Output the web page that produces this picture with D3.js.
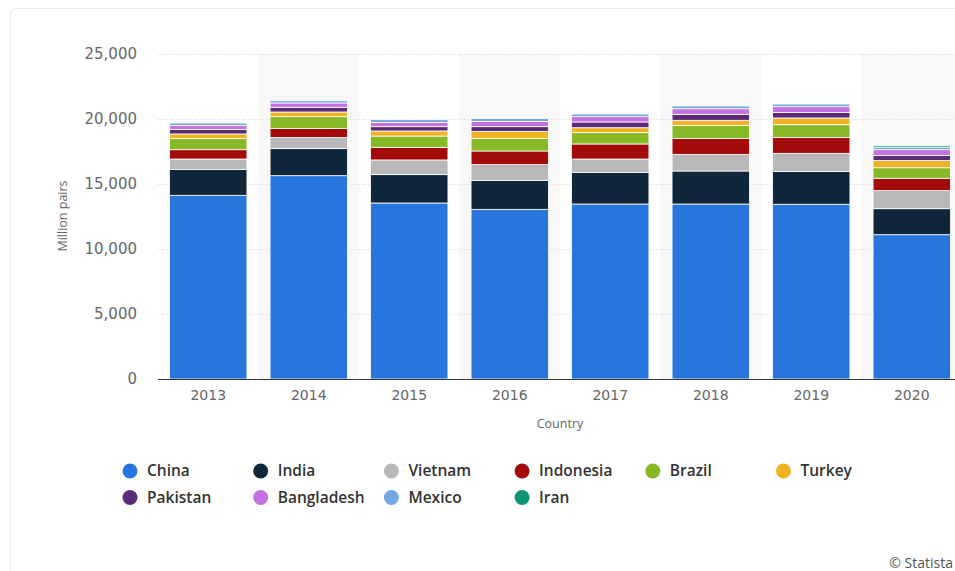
<!DOCTYPE html>
<html>
<head>
<meta charset="utf-8">
<script src="https://cdn.jsdelivr.net/npm/d3@7/dist/d3.min.js"></script>
<style>
  html, body { margin: 0; padding: 0; background: #fff; }
  svg { display: block; font-family: "Open Sans", "Noto Sans", sans-serif; }
</style>
</head>
<body>
<svg id="chart" width="955" height="571"></svg>
<script>
// Footwear production by country, million pairs
const years = ["2013", "2014", "2015", "2016", "2017", "2018", "2019", "2020"];
const countries = ["China", "India", "Vietnam", "Indonesia", "Brazil", "Turkey", "Pakistan", "Bangladesh", "Mexico", "Iran"];

const china      = [14130, 15640, 13540, 13050, 13460, 13460, 13440, 11100];
const india      = [1990, 2080, 2180, 2230, 2440, 2540, 2530, 2000];
const vietnam    = [800, 860, 1130, 1210, 1020, 1280, 1390, 1390];
const indonesia  = [720, 700, 970, 1050, 1160, 1230, 1220, 950];
const brazil     = [850, 900, 870, 970, 870, 980, 980, 810];
const turkey     = [360, 360, 390, 540, 380, 410, 520, 550];
const pakistan   = [350, 360, 330, 360, 440, 460, 430, 400];
const bangladesh = [300, 330, 330, 390, 410, 430, 440, 440];
const mexico     = [190, 170, 210, 230, 200, 210, 200, 190];
const iran       = [0, 0, 0, 0, 0, 0, 0, 110];

const yTicks = [0, 5000, 10000, 15000, 20000, 25000];
const colors = ["#2876dd", "#10263b", "#b8b8b8", "#a30b0b", "#86b925", "#f1b326",
                "#5a2b78", "#c472e0", "#74a7e6", "#0c9474"];

const seriesValues = [china, india, vietnam, indonesia, brazil, turkey, pakistan, bangladesh, mexico, iran];
const rows = years.map((yr, i) => {
  const r = { year: yr };
  countries.forEach((c, k) => { r[c] = seriesValues[k][i]; });
  return r;
});

const svg = d3.select("#chart");

// card outline
svg.append("rect")
  .attr("x", 10.5).attr("y", 8.5)
  .attr("width", 960).attr("height", 600)
  .attr("rx", 6)
  .attr("fill", "#fff")
  .attr("stroke", "#ececec");

const plot = { left: 158, right: 962, top: 54, bottom: 379 };

const x = d3.scaleBand()
  .domain(years)
  .range([plot.left, plot.right])
  .paddingInner(0.23)
  .paddingOuter(0.115);

const y = d3.scaleLinear()
  .domain([0, 25000])
  .range([plot.bottom, plot.top]);

// alternating column shading
const step = x.step();
svg.append("g")
  .selectAll("rect")
  .data(years.filter((d, i) => i % 2 === 1))
  .join("rect")
  .attr("x", d => x(d) - step * x.paddingInner() / 2)
  .attr("y", plot.top)
  .attr("width", step)
  .attr("height", plot.bottom - plot.top)
  .attr("fill", "#f8f8f8");

// gridlines
svg.append("g")
  .selectAll("line")
  .data(yTicks.filter(t => t > 0))
  .join("line")
  .attr("x1", plot.left).attr("x2", 955)
  .attr("y1", d => Math.round(y(d)) + 0.5)
  .attr("y2", d => Math.round(y(d)) + 0.5)
  .attr("stroke", "#d4d4d4")
  .attr("stroke-dasharray", "1,2");

// stacked bars
const stack = d3.stack().keys(countries);
const layers = stack(rows);

svg.append("g")
  .selectAll("g")
  .data(layers)
  .join("g")
  .attr("fill", (d, i) => colors[i])
  .selectAll("rect")
  .data(d => d.filter(s => s[1] - s[0] > 0))
  .join("rect")
  .attr("x", d => x(d.data.year))
  .attr("width", x.bandwidth())
  .attr("y", d => y(d[1]))
  .attr("height", d => y(d[0]) - y(d[1]))
  .attr("stroke", "#fff")
  .attr("stroke-width", 0.8);

// y axis
const yAxis = d3.axisLeft(y)
  .tickValues(yTicks)
  .tickFormat(d3.format(","))
  .tickSize(0)
  .tickPadding(21);

const gy = svg.append("g")
  .attr("transform", `translate(${plot.left},0)`)
  .call(yAxis);
gy.select(".domain").remove();
gy.selectAll("text")
  .attr("fill", "#666")
  .attr("font-size", 15)
  .attr("font-family", "DejaVu Sans, sans-serif");

// x axis
const xAxis = d3.axisBottom(x).tickSize(0).tickPadding(11);
const gx = svg.append("g")
  .attr("transform", `translate(0,${plot.bottom})`)
  .call(xAxis);
gx.select(".domain")
  .attr("d", `M${plot.left},0.5H955`)
  .attr("stroke", "#333")
  .attr("stroke-width", 1.2);
gx.selectAll("text")
  .attr("fill", "#666")
  .attr("font-size", 14)
  .attr("font-family", "DejaVu Sans, sans-serif");

// axis titles
svg.append("text")
  .attr("transform", "translate(67,216) rotate(-90)")
  .attr("text-anchor", "middle")
  .attr("fill", "#666")
  .attr("font-size", 12.5)
  .text("Million pairs");

svg.append("text")
  .attr("x", 560).attr("y", 428)
  .attr("text-anchor", "middle")
  .attr("fill", "#666")
  .attr("font-size", 12.5)
  .text("Country");

// legend
const legend = svg.append("g");
const perRow = 6, colW = 130.7, legX = 130, legY = 471, rowH = 26.5;
const items = legend.selectAll("g")
  .data(countries)
  .join("g")
  .attr("transform", (d, i) => `translate(${legX + (i % perRow) * colW},${legY + Math.floor(i / perRow) * rowH})`);
items.append("circle")
  .attr("r", 7.5)
  .attr("fill", (d, i) => colors[i]);
items.append("text")
  .attr("x", 17)
  .attr("dy", "0.35em")
  .attr("fill", "#333")
  .attr("font-size", 15.5)
  .attr("font-weight", 600)
  .text(d => d);

// credit
svg.append("text")
  .attr("x", 953).attr("y", 568)
  .attr("text-anchor", "end")
  .attr("fill", "#555")
  .attr("font-size", 14)
  .text("© Statista");
</script>
</body>
</html>
